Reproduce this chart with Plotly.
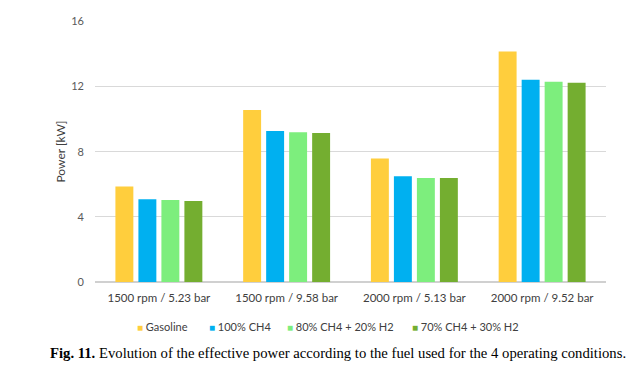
import plotly.graph_objects as go

categories = ["1500 rpm / 5.23 bar", "1500 rpm / 9.58 bar", "2000 rpm / 5.13 bar", "2000 rpm / 9.52 bar"]
series_names = ["Gasoline", "100% CH4", "80% CH4 + 20% H2", "70% CH4 + 30% H2"]
gasoline = [5.86, 10.56, 7.58, 14.16]
ch4_100 = [5.08, 9.28, 6.49, 12.42]
ch4_80_h2_20 = [5.04, 9.19, 6.39, 12.30]
ch4_70_h2_30 = [4.98, 9.15, 6.38, 12.24]
y_ticks = [0, 4, 8, 12, 16]

colors = ["#FFCE3D", "#00B0F0", "#7DEE7D", "#74AE30"]
values = [gasoline, ch4_100, ch4_80_h2_20, ch4_70_h2_30]

fig = go.Figure()
for name, vals, col in zip(series_names, values, colors):
    fig.add_trace(go.Bar(x=categories, y=vals, name=name, marker=dict(color=col, line=dict(width=0))))

font_family = "Lato, 'Open Sans', sans-serif"
fig.update_layout(
    width=640, height=372,
    margin=dict(l=95, r=34, t=21, b=89.5),
    paper_bgcolor="white", plot_bgcolor="white",
    barmode="group", bargap=0.28, bargroupgap=0.22,
    font=dict(family=font_family, size=11, color="#404040"),
    showlegend=False,
    yaxis=dict(range=[0, 16.03], tickvals=y_ticks, showgrid=True, gridcolor="#D9D9D9", gridwidth=1,
               zeroline=True, zerolinecolor="#D0D0D0", zerolinewidth=1.5,
               tickfont=dict(size=11, color="#595959"), ticklabelstandoff=10,
               title=dict(text="Power [kW]", font=dict(size=12, color="#404040"), standoff=3)),
    xaxis=dict(tickfont=dict(size=11.5, color="#404040"), showgrid=False, ticklabelstandoff=7),
)

# legend drawn as text entries (coloured square glyph + label)
legend_x = [(135 - 95) / 511, (207 - 95) / 511, (285 - 95) / 511, (410 - 95) / 511]
for lx, name, col in zip(legend_x, series_names, colors):
    fig.add_annotation(
        text=f"<span style='color:{col};font-size:10px'>■</span> {name}",
        xref="paper", yref="paper", x=lx, y=(282.5 - 327) / 261.5,
        xanchor="left", yanchor="middle", showarrow=False,
        font=dict(family=font_family, size=11, color="#404040"),
    )

fig.add_annotation(
    text="<b>Fig. 11.</b> Evolution of the effective power according to the fuel used for the 4 operating conditions.",
    xref="paper", yref="paper", x=(48 - 95) / 511, y=(282.5 - 354) / 261.5, xanchor="left", yanchor="middle",
    showarrow=False, font=dict(family="'Liberation Serif', 'Times New Roman', serif", size=14.7, color="#000000"),
)

fig.write_html("out.html", config={"displayModeBar": False},
               post_script="document.body.style.margin='0';document.body.style.padding='0';")
